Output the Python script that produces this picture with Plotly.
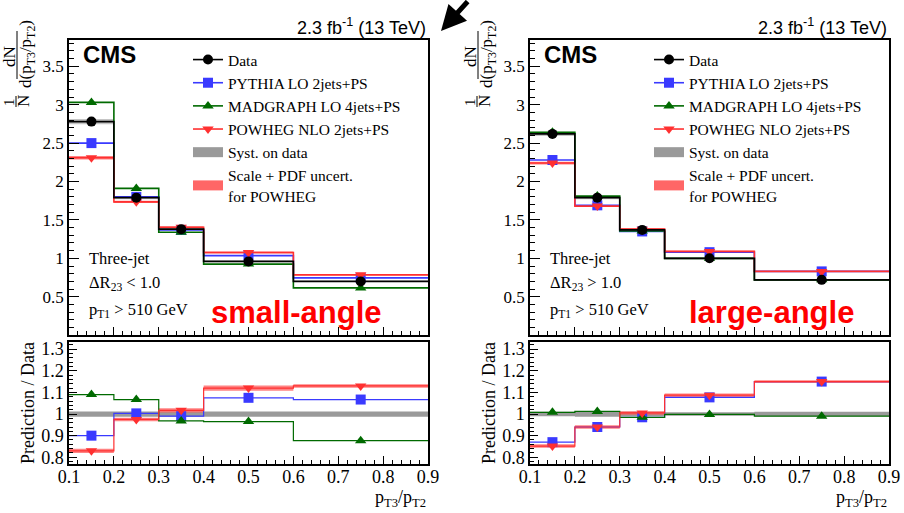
import plotly.graph_objects as go

W, H = 904, 513

# ---------------- data ----------------
edges = [0.1, 0.2, 0.3, 0.4, 0.6, 0.9]
centers = [0.15, 0.25, 0.35, 0.5, 0.75]
x_ticks = [0.1, 0.2, 0.3, 0.4, 0.5, 0.6, 0.7, 0.8, 0.9]
y_top_ticks = [0.5, 1, 1.5, 2, 2.5, 3, 3.5]
y_ratio_ticks = [0.8, 0.9, 1.0, 1.1, 1.2, 1.3]

# small-angle (dR23 < 1.0)
data_small = [2.78, 1.79, 1.38, 0.96, 0.70]
pythia_small = [2.50, 1.80, 1.37, 1.035, 0.745]
madgraph_small = [3.03, 1.91, 1.34, 0.925, 0.615]
powheg_small = [2.31, 1.735, 1.405, 1.075, 0.785]
syst_small = [0.012, 0.012, 0.012, 0.012, 0.012]
powheg_unc_small = [0.010, 0.008, 0.010, 0.012, 0.008]
pythia_ratio_small = [0.90, 1.003, 0.99, 1.075, 1.067]
madgraph_ratio_small = [1.09, 1.067, 0.968, 0.965, 0.877]
powheg_ratio_small = [0.83, 0.975, 1.017, 1.12, 1.13]

# large-angle (dR23 > 1.0)
data_large = [2.62, 1.79, 1.37, 1.00, 0.72]
pythia_large = [2.28, 1.69, 1.35, 1.08, 0.83]
madgraph_large = [2.64, 1.81, 1.355, 1.00, 0.72]
powheg_large = [2.24, 1.68, 1.38, 1.09, 0.83]
syst_large = [0.010, 0.012, 0.010, 0.008, 0.010]
powheg_unc_large = [0.008, 0.008, 0.008, 0.008, 0.006]
pythia_ratio_large = [0.87, 0.94, 0.985, 1.077, 1.15]
madgraph_ratio_large = [1.008, 1.012, 0.985, 0.998, 0.99]
powheg_ratio_large = [0.852, 0.94, 1.005, 1.087, 1.15]

legend_names = ["Data", "PYTHIA LO 2jets+PS", "MADGRAPH LO 4jets+PS",
                "POWHEG NLO 2jets+PS", "Syst. on data",
                "Scale + PDF uncert.<br>for POWHEG"]

# ---------------- style ----------------
C_DATA = "#000000"
C_PY = "#3a3aff"
C_MG = "#006a00"
C_PW = "#ff3030"
C_SYST = "#9a9a9a"
C_SYST_UP = "rgba(150,150,150,0.55)"
C_PWB = "rgba(255,90,90,0.75)"
SERIF = "Liberation Serif"
SANS = "Liberation Sans"


def px(x):
    return x / W


def py(y):
    return 1 - y / H


def step_y(v):
    return list(v) + [v[-1]]


fig = go.Figure()


def band(xa, ya, center, unc, color):
    lo = [c * (1 - u) for c, u in zip(center, unc)]
    hi = [c * (1 + u) for c, u in zip(center, unc)]
    fig.add_trace(go.Scatter(x=edges, y=step_y(lo), xaxis=xa, yaxis=ya, mode="lines",
                             line=dict(width=0, shape="hv"), showlegend=False, hoverinfo="skip"))
    fig.add_trace(go.Scatter(x=edges, y=step_y(hi), xaxis=xa, yaxis=ya, mode="lines",
                             line=dict(width=0, shape="hv"), fill="tonexty", fillcolor=color,
                             showlegend=False, hoverinfo="skip"))


def ratio_band(xa, ya, center, unc, color):
    lo = [c - u for c, u in zip(center, unc)]
    hi = [c + u for c, u in zip(center, unc)]
    fig.add_trace(go.Scatter(x=edges, y=step_y(lo), xaxis=xa, yaxis=ya, mode="lines",
                             line=dict(width=0, shape="hv"), showlegend=False, hoverinfo="skip"))
    fig.add_trace(go.Scatter(x=edges, y=step_y(hi), xaxis=xa, yaxis=ya, mode="lines",
                             line=dict(width=0, shape="hv"), fill="tonexty", fillcolor=color,
                             showlegend=False, hoverinfo="skip"))


def hist(xa, ya, vals, color, symbol, width=1.6):
    fig.add_trace(go.Scatter(x=edges, y=step_y(vals), xaxis=xa, yaxis=ya, mode="lines",
                             line=dict(color=color, width=width, shape="hv"),
                             showlegend=False, hoverinfo="skip"))
    fig.add_trace(go.Scatter(x=centers, y=vals, xaxis=xa, yaxis=ya, mode="markers",
                             marker=dict(color=color, symbol=symbol, size=10),
                             showlegend=False))


def panel(xu, yu, xl, yl, data, py_, mg, pw, syst, pwu, rpy, rmg, rpw, leg):
    # upper
    band(xu, yu, data, syst, C_SYST_UP)
    band(xu, yu, pw, pwu, C_PWB)
    hist(xu, yu, py_, C_PY, "square")
    hist(xu, yu, mg, C_MG, "triangle-up")
    hist(xu, yu, pw, C_PW, "triangle-down")
    hist(xu, yu, data, C_DATA, "circle")
    # lower
    ones = [1.0 for _ in data]
    ratio_band(xl, yl, ones, syst, C_SYST)
    ratio_band(xl, yl, rpw, pwu, C_PWB)
    hist(xl, yl, rpy, C_PY, "square", 1.2)
    hist(xl, yl, rmg, C_MG, "triangle-up", 1.2)
    hist(xl, yl, rpw, C_PW, "triangle-down", 1.2)
    # legend entries
    specs = [(legend_names[0], C_DATA, "circle"), (legend_names[1], C_PY, "square"),
             (legend_names[2], C_MG, "triangle-up"), (legend_names[3], C_PW, "triangle-down")]
    for name, col, sym in specs:
        fig.add_trace(go.Scatter(x=[None], y=[None], xaxis=xu, yaxis=yu, mode="lines+markers",
                                 name=name, legend=leg,
                                 line=dict(color=col, width=1.6),
                                 marker=dict(color=col, symbol=sym, size=10)))
    fig.add_trace(go.Scatter(x=[None], y=[None], xaxis=xu, yaxis=yu, mode="lines",
                             name=legend_names[4], legend=leg,
                             line=dict(color=C_SYST, width=10)))
    fig.add_trace(go.Scatter(x=[None], y=[None], xaxis=xu, yaxis=yu, mode="lines",
                             name=legend_names[5], legend=leg,
                             line=dict(color="#ff6666", width=10)))


panel("x", "y", "x2", "y2", data_small, pythia_small, madgraph_small, powheg_small,
      syst_small, powheg_unc_small, pythia_ratio_small, madgraph_ratio_small,
      powheg_ratio_small, "legend")
panel("x3", "y3", "x4", "y4", data_large, pythia_large, madgraph_large, powheg_large,
      syst_large, powheg_unc_large, pythia_ratio_large, madgraph_ratio_large,
      powheg_ratio_large, "legend2")

# ---------------- axes ----------------
LEFT = (69, 428)
DX = 461
UP = (40, 335)
LO = (342, 464)

dom_left = [px(LEFT[0]), px(LEFT[1])]
dom_right = [px(LEFT[0] + DX), px(LEFT[1] + DX)]
dom_up = [py(UP[1]), py(UP[0])]
dom_lo = [py(LO[1]), py(LO[0])]


def xaxis(domain, anchor, labels):
    return dict(domain=domain, anchor=anchor, range=[0.1, 0.9], tickmode="array",
                tickvals=x_ticks, showticklabels=labels, ticks="inside", ticklen=8,
                tickwidth=1, tickcolor="black", showline=True, linecolor="black",
                linewidth=1.5, mirror=True, showgrid=False, zeroline=False,
                ticklabelstandoff=-4, automargin=False,
                tickfont=dict(family=SERIF, size=18, color="black"),
                minor=dict(dtick=0.02, tick0=0.1, ticks="inside", ticklen=4,
                           tickcolor="black", showgrid=False))


def yup(domain, anchor):
    return dict(domain=domain, anchor=anchor, range=[0.002, 3.842], tickmode="array",
                tickvals=y_top_ticks, ticks="inside", ticklen=10, tickwidth=1,
                tickcolor="black", showline=True, linecolor="black", linewidth=1.5,
                mirror=True, showgrid=False, zeroline=False, automargin=False,
                tickfont=dict(family=SERIF, size=17, color="black"),
                minor=dict(dtick=0.1, tick0=0, ticks="inside", ticklen=5,
                           tickcolor="black", showgrid=False))


def ylo(domain, anchor):
    return dict(domain=domain, anchor=anchor, range=[0.769, 1.333], tickmode="array",
                tickvals=y_ratio_ticks, ticks="inside", ticklen=8, tickwidth=1,
                tickcolor="black", showline=True, linecolor="black", linewidth=1.5,
                mirror=True, showgrid=False, zeroline=False, automargin=False,
                tickfont=dict(family=SERIF, size=18, color="black"),
                minor=dict(dtick=0.02, tick0=0.8, ticks="inside", ticklen=4,
                           tickcolor="black", showgrid=False))


legend_common = dict(font=dict(family=SERIF, size=15.5, color="black"),
                     bgcolor="rgba(0,0,0,0)", borderwidth=0, itemwidth=30,
                     tracegroupgap=0, xanchor="left", yanchor="top",
                     traceorder="normal", itemclick=False, itemdoubleclick=False)

fig.update_layout(
    width=W, height=H, autosize=False,
    margin=dict(l=0, r=0, t=0, b=0, pad=0, autoexpand=False),
    paper_bgcolor="white", plot_bgcolor="white",
    xaxis=xaxis(dom_left, "y", False), yaxis=yup(dom_up, "x"),
    xaxis2=xaxis(dom_left, "y2", True), yaxis2=ylo(dom_lo, "x2"),
    xaxis3=xaxis(dom_right, "y3", False), yaxis3=yup(dom_up, "x3"),
    xaxis4=xaxis(dom_right, "y4", True), yaxis4=ylo(dom_lo, "x4"),
    legend=dict(x=px(188), y=py(43), **legend_common),
    legend2=dict(x=px(188 + DX), y=py(43), **legend_common),
    showlegend=True,
)

# ---------------- texts ----------------
ann = []
shapes = []


def text(x, y, s, size, family=SERIF, color="black", xanchor="left", angle=0, bold=False):
    ann.append(dict(x=px(x), y=py(y), xref="paper", yref="paper", text=("<b>%s</b>" % s) if bold else s,
                    showarrow=False, xanchor=xanchor, yanchor="middle", textangle=angle,
                    font=dict(family=family, size=size, color=color)))


for off, tag, sel in [(0, "small-angle", "&lt; 1.0"), (DX, "large-angle", "&gt; 1.0")]:
    text(428 + off, 27, "2.3 fb<sup>-1</sup> (13 TeV)", 18, SANS, xanchor="right")
    text(81 + off, 54, "CMS", 24, SANS, bold=True)
    text(87 + off, 258, "Three-jet", 16.5)
    text(87 + off, 283, "ΔR<sub>23</sub> " + sel, 16.5)
    text(87 + off, 310, "p<sub>T1</sub> &gt; 510 GeV", 16.5)
    text((296 if off == 0 else 310) + off, 312, tag, 31, SANS, color="#ff0000",
         xanchor="center", bold=True)
    text(428 + off, 498, "p<sub>T3</sub>/p<sub>T2</sub>", 18, xanchor="right")
    text(28 + off, 403, "Prediction / Data", 18, xanchor="center", angle=-90)
    # y-axis title as a fraction
    text(9 + off, 57, "dN", 17, xanchor="center", angle=-90)
    text(27 + off, 54, "d(p<sub>T3</sub>/p<sub>T2</sub>)", 17, xanchor="center", angle=-90)
    text(9 + off, 102, "1", 15, xanchor="center", angle=-90)
    text(23 + off, 101, "N", 17, xanchor="center", angle=-90)
    shapes.append(dict(type="line", xref="paper", yref="paper", x0=px(17 + off), x1=px(17 + off),
                       y0=py(31), y1=py(79), line=dict(color="black", width=1)))
    shapes.append(dict(type="line", xref="paper", yref="paper", x0=px(16 + off), x1=px(16 + off),
                       y0=py(96), y1=py(107), line=dict(color="black", width=1)))

# arrow between the panels
ann.append(dict(x=px(441), y=py(31), xref="paper", yref="paper", text="", showarrow=True,
                ax=28, ay=-31, arrowhead=2, arrowsize=1.0, arrowwidth=5, arrowcolor="black"))

fig.update_layout(annotations=ann, shapes=shapes)

fig.write_html("out.html")
